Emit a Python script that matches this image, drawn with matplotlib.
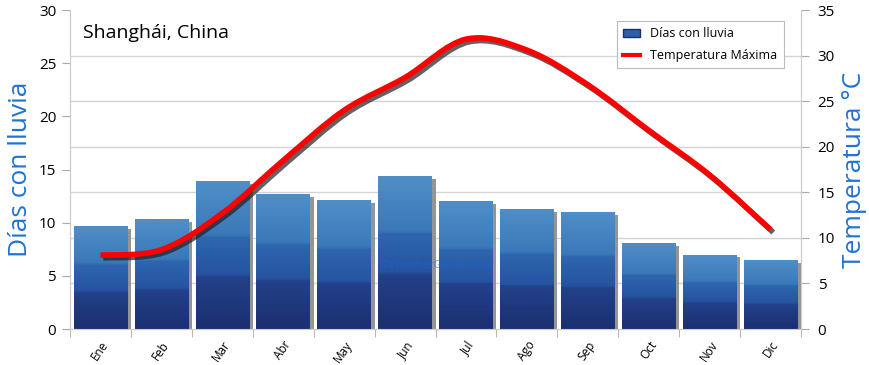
import numpy as np
import matplotlib
matplotlib.use('Agg')
import matplotlib.pyplot as plt
from matplotlib.path import Path
from matplotlib.patches import PathPatch, Patch
from matplotlib.lines import Line2D
from matplotlib.colors import LinearSegmentedColormap
import matplotlib.patheffects as pe

plt.rcParams['font.family'] = ['Open Sans', 'DejaVu Sans']

months = ['Ene', 'Feb', 'Mar', 'Abr', 'May', 'Jun', 'Jul', 'Ago', 'Sep', 'Oct', 'Nov', 'Dic']
rain_days = [9.7, 10.3, 13.9, 12.7, 12.1, 14.4, 12.0, 11.3, 11.0, 8.1, 7.0, 6.5]
temp_max = [8.1, 8.7, 12.7, 18.5, 24.0, 27.6, 31.8, 30.6, 26.8, 21.8, 16.9, 10.9]

blue_lbl = '#1f73d2'
grid_c = '#d4d4d4'

fig = plt.figure(figsize=(8.7, 3.65), dpi=100)
ax = fig.add_axes([0.0805, 0.0986, 0.8402, 0.874])
ax2 = ax.twinx()

x = np.arange(len(months))
w = 0.88

# bar gradient, dark navy at bottom to lighter blue at top
cmap = LinearSegmentedColormap.from_list('bars', [
    (0.0, '#1c2f70'), (0.35, '#22418a'), (0.37, '#2653a0'),
    (0.62, '#2e66ae'), (0.64, '#3b78b9'), (1.0, '#4f8fc7')])
grad = np.linspace(0, 1, 100).reshape(-1, 1)

for xi, h in zip(x, rain_days):
    # shadow
    ax.bar(xi + 0.06, h - 0.25, width=w, color='#8a8a8a', zorder=2, alpha=0.9)
    b = ax.bar(xi, h, width=w, color='#3b78b9', zorder=3)[0]
    im = ax.imshow(grad, extent=[xi - w / 2, xi + w / 2, 0, h], origin='lower',
                   aspect='auto', cmap=cmap, zorder=3.5)
    im.set_clip_path(b)

ax.set_xlim(-0.5, 11.5)
ax.set_ylim(0, 30)
ax2.set_ylim(0, 35)

# grid lines follow the right axis
ax.set_yticks(np.arange(0, 31, 5))
ax.set_yticks(np.arange(0, 36, 5) * 30 / 35, minor=True)
ax.grid(which='minor', axis='y', color=grid_c, lw=1)
ax.tick_params(axis='y', which='minor', length=0)
ax.tick_params(axis='y', which='major', length=6, color='#aaaaaa', labelsize=11, pad=4)
ax2.set_yticks(np.arange(0, 36, 5))
ax2.tick_params(axis='y', length=6, color='#aaaaaa', labelsize=11, pad=6)

ax.set_xticks(x)
ax.set_xticklabels(months, rotation=55, fontsize=8.5, ha='right', rotation_mode='anchor')
ax.tick_params(axis='x', which='major', length=0, pad=7)
ax.set_xticks(np.arange(-0.5, 12, 1), minor=True)
ax.tick_params(axis='x', which='minor', length=6, color='#aaaaaa')

for a in (ax, ax2):
    for s in a.spines.values():
        s.set_color('#cccccc')
    a.spines['top'].set_visible(False)

# smooth temperature curve through the monthly values
pts = np.column_stack([x, temp_max]).astype(float)
verts = [tuple(pts[0])]
codes = [Path.MOVETO]
for i in range(len(pts) - 1):
    p0 = pts[i - 1] if i > 0 else pts[i]
    p1, p2 = pts[i], pts[i + 1]
    p3 = pts[i + 2] if i + 2 < len(pts) else pts[i + 1]
    c1 = p1 + (p2 - p0) / 6
    c2 = p2 - (p3 - p1) / 6
    verts += [tuple(c1), tuple(c2), tuple(p2)]
    codes += [Path.CURVE4] * 3
curve = PathPatch(Path(verts, codes), fill=False, edgecolor='#ff0000', lw=4, zorder=5,
                  capstyle='butt', joinstyle='round',
                  path_effects=[pe.SimpleLineShadow(offset=(2, -2), shadow_color='#202020', alpha=0.7),
                                pe.Normal()])
ax2.add_patch(curve)

ax.set_ylabel('Días con lluvia', color=blue_lbl, fontsize=19, labelpad=4)
ax2.set_ylabel('Temperatura °C', color=blue_lbl, fontsize=19, labelpad=5)

ax.text(0.018, 0.955, 'Shanghái, China', transform=ax.transAxes, fontsize=14,
        va='top', ha='left', zorder=6)
ax.text(0.5, 0.2, '©WeatherGuide.com', transform=ax.transAxes, fontsize=8,
        color='#1a66d8', alpha=0.6, ha='center', va='center', zorder=6)

# legend
handles = [Patch(facecolor='#2d5fa5', edgecolor='#1c2f70'),
           Line2D([0], [0], color='#ff0000', lw=3)]
leg = ax2.legend(handles, ['Días con lluvia', 'Temperatura Máxima'], loc='upper right',
                 bbox_to_anchor=(0.985, 0.985), fontsize=9, fancybox=False, framealpha=1,
                 edgecolor='#bbbbbb', handlelength=1.4, borderpad=0.5, labelspacing=0.7)
leg.get_frame().set_linewidth(0.8)

fig.savefig('out.png', dpi=100)
